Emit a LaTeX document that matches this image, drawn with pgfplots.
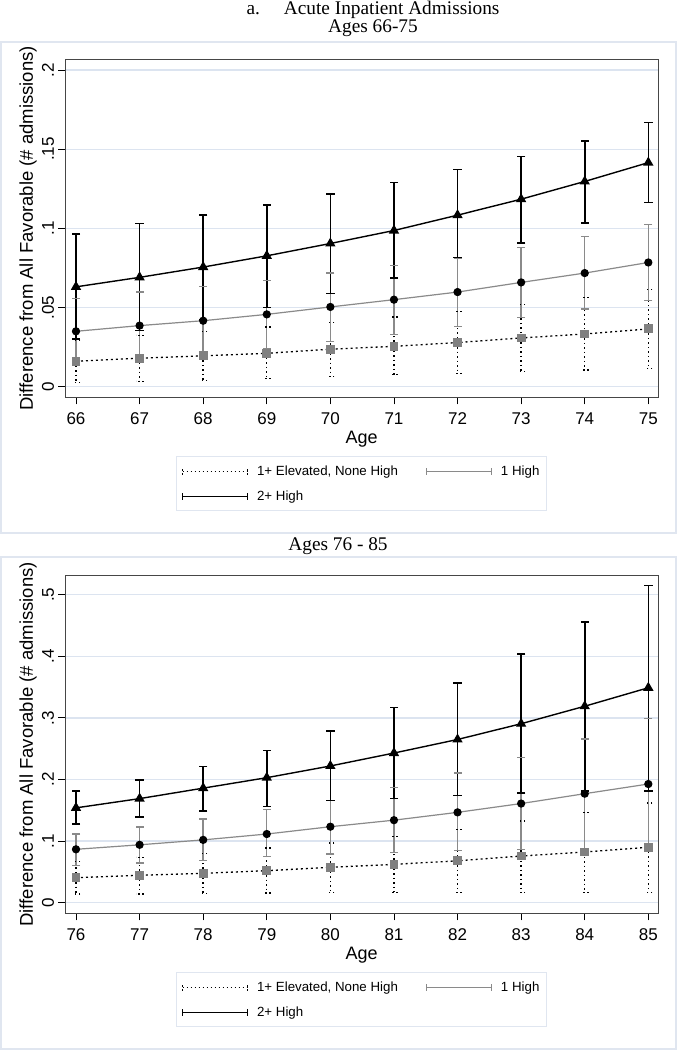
\documentclass[border=0pt]{standalone}
\usepackage{pgfplots}
\pgfplotsset{compat=1.18}
\usepackage{pgfplotstable}
\usepackage{fontspec}
\setmainfont{Liberation Sans}
\newfontfamily\serif{Liberation Serif}

\definecolor{gridc}{RGB}{220,228,240}
\definecolor{framec}{RGB}{224,230,240}
\definecolor{grayl}{RGB}{138,138,138}
\definecolor{graysq}{RGB}{128,128,128}
\definecolor{boxc}{RGB}{70,70,70}

% Ages 66-75
\pgfplotstableread{
x y lo hi
66 0.0160 0.0027 0.0293
67 0.0179 0.0034 0.0324
68 0.0194 0.0040 0.0350
69 0.0210 0.0050 0.0377
70 0.0236 0.0063 0.0406
71 0.0254 0.0074 0.0440
72 0.0278 0.0084 0.0475
73 0.0307 0.0093 0.0517
74 0.0332 0.0105 0.0563
75 0.0364 0.0115 0.0612
}\elevA
\pgfplotstableread{
x y lo hi
66 0.0349 0.0141 0.0557
67 0.0385 0.0173 0.0597
68 0.0416 0.0199 0.0633
69 0.0456 0.0242 0.0670
70 0.0503 0.0286 0.0717
71 0.0549 0.0330 0.0766
72 0.0597 0.0380 0.0808
73 0.0658 0.0437 0.0879
74 0.0717 0.0490 0.0948
75 0.0784 0.0544 0.1026
}\oneA
\pgfplotstableread{
x y lo hi
66 0.0630 0.0300 0.0965
67 0.0690 0.0355 0.1030
68 0.0755 0.0420 0.1085
69 0.0826 0.0500 0.1148
70 0.0904 0.0587 0.1218
71 0.0986 0.0686 0.1290
72 0.1083 0.0814 0.1370
73 0.1184 0.0908 0.1453
74 0.1296 0.1035 0.1552
75 0.1415 0.1163 0.1670
}\twoA
% Ages 76-85
\pgfplotstableread{
x y lo hi
76 0.0406 0.0140 0.0666
77 0.0445 0.0140 0.0737
78 0.0477 0.0145 0.0800
79 0.0520 0.0160 0.0890
80 0.0574 0.0170 0.0970
81 0.0623 0.0170 0.1070
82 0.0680 0.0170 0.1190
83 0.0758 0.0170 0.1326
84 0.0823 0.0170 0.1460
85 0.0900 0.0170 0.1620
}\elevB
\pgfplotstableread{
x y lo hi
76 0.0867 0.0600 0.1115
77 0.0940 0.0645 0.1230
78 0.1020 0.0690 0.1360
79 0.1115 0.0747 0.1510
80 0.1234 0.0790 0.1660
81 0.1340 0.0810 0.1870
82 0.1467 0.0850 0.2105
83 0.1610 0.0867 0.2360
84 0.1770 0.0880 0.2657
85 0.1927 0.0870 0.2990
}\oneB
\pgfplotstableread{
x y lo hi
76 0.1540 0.1280 0.1810
77 0.1690 0.1390 0.1990
78 0.1860 0.1490 0.2210
79 0.2030 0.1560 0.2470
80 0.2220 0.1660 0.2790
81 0.2430 0.1695 0.3166
82 0.2650 0.1740 0.3570
83 0.2906 0.1780 0.4040
84 0.3190 0.1810 0.4560
85 0.3490 0.1810 0.5150
}\twoB

\tikzset{ylab/.style={rotate=90, anchor=center, inner sep=0pt, font=\fontsize{17}{19}\selectfont}}

\pgfplotsset{
  panel/.style={
    scale only axis, width=593.3pt, height=338pt, anchor=south west, clip=false,
    axis line style={boxc, line width=0.9pt},
    tick align=outside, major tick length=7pt,
    xtick pos=left, ytick pos=left,
    tick style={black, line width=0.9pt},
    ymajorgrids, grid style={gridc, line width=1.3pt},
    tick label style={font=\fontsize{17}{19}\selectfont},
    xticklabel style={anchor=north, inner sep=0pt},
    xticklabel shift=8.5pt,
    yticklabels={},
    xlabel={Age}, ylabel={Difference from All Favorable (\# admissions)},
    every axis x label/.style={at={([yshift=-41.5pt]axis description cs:0.5,0)}, anchor=center, font=\fontsize{18}{20}\selectfont},
    every axis y label/.style={at={([xshift=-37pt]axis description cs:0,0.5)}, anchor=center, rotate=90, font=\fontsize{18.5}{20}\selectfont},
    legend columns=2,
    legend style={at={(0.5,-0.1737)}, anchor=north, draw=framec, line width=1pt, fill=white,
      font=\fontsize{13.3}{15}\selectfont, cells={anchor=west},
      /tikz/every even column/.append style={column sep=26pt},
      row sep=10pt, inner xsep=5pt, inner ysep=7pt},
  },
  cibase/.style={only marks, mark=none,
    error bars/y dir=both, error bars/y explicit, error bars/error mark=none},
  ciA/.style={cibase,
    legend image code/.code={\draw[black, line width=1.1pt, dash pattern=on 1.5pt off 2.5pt] (0pt,0pt)--(65pt,0pt) (0pt,-3.5pt)--(0pt,3.5pt) (65pt,-3.5pt)--(65pt,3.5pt); \path (72pt,0pt);},
    error bars/error bar style={black, line width=1.4pt, dash pattern=on 1.5pt off 3pt}},
  ciB/.style={cibase,
    legend image code/.code={\draw[grayl, line width=1.1pt] (0pt,0pt)--(65pt,0pt) (0pt,-3.5pt)--(0pt,3.5pt) (65pt,-3.5pt)--(65pt,3.5pt); \path (72pt,0pt);},
    error bars/error bar style={grayl, line width=1.4pt}},
  ciC/.style={cibase,
    legend image code/.code={\draw[black, line width=1.4pt] (0pt,0pt)--(65pt,0pt) (0pt,-3.5pt)--(0pt,3.5pt) (65pt,-3.5pt)--(65pt,3.5pt); \path (72pt,0pt);},
    error bars/error bar style={black, line width=1.6pt}},
  capA/.style={forget plot, only marks, mark=-, mark size=4pt, mark options={black, line width=1.3pt, dash pattern=on 1.5pt off 2.5pt}},
  capB/.style={forget plot, only marks, mark=-, mark size=4pt, mark options={grayl, line width=1.3pt}},
  capC/.style={forget plot, only marks, mark=-, mark size=4.2pt, mark options={black, line width=1.5pt}},
  lnA/.style={forget plot, black, line width=1.3pt, dash pattern=on 2pt off 3pt, mark=square*, mark size=3.8pt, mark options={solid, fill=graysq, draw=graysq}},
  lnB/.style={forget plot, grayl, line width=1.2pt, mark=*, mark size=3.5pt, mark options={black, fill=black}},
  lnC/.style={forget plot, black, line width=1.4pt, mark=triangle*, mark size=4.6pt, mark options={black, fill=black}},
}

\begin{document}
\begin{tikzpicture}
\path[use as bounding box, fill=white] (0pt,0pt) rectangle (677pt,1050pt);
\draw[framec, line width=1.2pt] (1pt,517pt) rectangle (676pt,1008pt);
\draw[framec, line width=1.2pt] (1pt,1pt) rectangle (676pt,493pt);
\node[anchor=base, font=\serif\fontsize{19.3}{22}\selectfont, inner sep=0pt] at (373pt,1035pt) {a.\hspace{24pt}Acute Inpatient Admissions};
\node[anchor=base, font=\serif\fontsize{19.3}{22}\selectfont, inner sep=0pt] at (373pt,1017pt) {Ages 66-75};
\node[anchor=base, font=\serif\fontsize{19.3}{22}\selectfont, inner sep=0pt] at (338pt,499pt) {Ages 76 - 85};

\begin{axis}[panel, at={(65pt,652.7pt)},
  xmin=65.827, xmax=75.157, ymin=-0.0068, ymax=0.2068,
  xtick={66,67,68,69,70,71,72,73,74,75}, xticklabels={66,67,68,69,70,71,72,73,74,75},
  ytick={0,0.05,0.1,0.15,0.2}]
\addplot[ciA] table[x=x, y=y, y error plus expr=\thisrow{hi}-\thisrow{y}, y error minus expr=\thisrow{y}-\thisrow{lo}] {\elevA};
\addlegendentry{1+ Elevated, None High}
\addplot[ciB] table[x=x, y=y, y error plus expr=\thisrow{hi}-\thisrow{y}, y error minus expr=\thisrow{y}-\thisrow{lo}] {\oneA};
\addlegendentry{1 High}
\addplot[ciC] table[x=x, y=y, y error plus expr=\thisrow{hi}-\thisrow{y}, y error minus expr=\thisrow{y}-\thisrow{lo}] {\twoA};
\addlegendentry{2+ High}
\addplot[capA] table[x=x, y=hi] {\elevA};
\addplot[capA] table[x=x, y=lo] {\elevA};
\addplot[capB] table[x=x, y=hi] {\oneA};
\addplot[capB] table[x=x, y=lo] {\oneA};
\addplot[capC] table[x=x, y=hi] {\twoA};
\addplot[capC] table[x=x, y=lo] {\twoA};
\addplot[lnA] table[x=x, y=y] {\elevA};
\addplot[lnB] table[x=x, y=y] {\oneA};
\addplot[lnC] table[x=x, y=y] {\twoA};
\node[ylab] at ([xshift=-17pt]axis cs:65.827,0) {0};
\node[ylab] at ([xshift=-17pt]axis cs:65.827,0.05) {.05};
\node[ylab] at ([xshift=-17pt]axis cs:65.827,0.1) {.1};
\node[ylab] at ([xshift=-17pt]axis cs:65.827,0.15) {.15};
\node[ylab] at ([xshift=-17pt]axis cs:65.827,0.2) {.2};
\end{axis}

\begin{axis}[panel, at={(65pt,136.7pt)},
  xmin=75.827, xmax=85.157, ymin=-0.0172, ymax=0.5316,
  xtick={76,77,78,79,80,81,82,83,84,85}, xticklabels={76,77,78,79,80,81,82,83,84,85},
  ytick={0,0.1,0.2,0.3,0.4,0.5}]
\addplot[ciA] table[x=x, y=y, y error plus expr=\thisrow{hi}-\thisrow{y}, y error minus expr=\thisrow{y}-\thisrow{lo}] {\elevB};
\addlegendentry{1+ Elevated, None High}
\addplot[ciB] table[x=x, y=y, y error plus expr=\thisrow{hi}-\thisrow{y}, y error minus expr=\thisrow{y}-\thisrow{lo}] {\oneB};
\addlegendentry{1 High}
\addplot[ciC] table[x=x, y=y, y error plus expr=\thisrow{hi}-\thisrow{y}, y error minus expr=\thisrow{y}-\thisrow{lo}] {\twoB};
\addlegendentry{2+ High}
\addplot[capA] table[x=x, y=hi] {\elevB};
\addplot[capA] table[x=x, y=lo] {\elevB};
\addplot[capB] table[x=x, y=hi] {\oneB};
\addplot[capB] table[x=x, y=lo] {\oneB};
\addplot[capC] table[x=x, y=hi] {\twoB};
\addplot[capC] table[x=x, y=lo] {\twoB};
\addplot[lnA] table[x=x, y=y] {\elevB};
\addplot[lnB] table[x=x, y=y] {\oneB};
\addplot[lnC] table[x=x, y=y] {\twoB};
\node[ylab] at ([xshift=-17pt]axis cs:75.827,0) {0};
\node[ylab] at ([xshift=-17pt]axis cs:75.827,0.1) {.1};
\node[ylab] at ([xshift=-17pt]axis cs:75.827,0.2) {.2};
\node[ylab] at ([xshift=-17pt]axis cs:75.827,0.3) {.3};
\node[ylab] at ([xshift=-17pt]axis cs:75.827,0.4) {.4};
\node[ylab] at ([xshift=-17pt]axis cs:75.827,0.5) {.5};
\end{axis}
\end{tikzpicture}
\end{document}
